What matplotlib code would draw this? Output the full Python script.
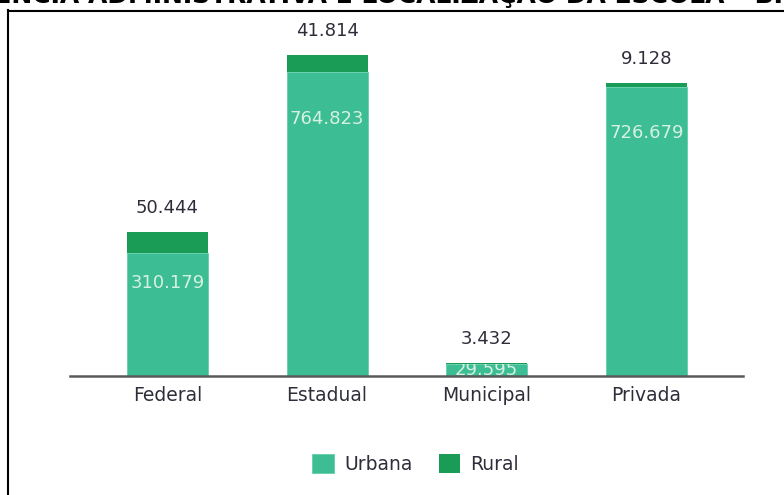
import matplotlib
matplotlib.use("Agg")
import matplotlib.pyplot as plt
from matplotlib.lines import Line2D
from matplotlib.patches import Patch
import numpy as np

categories = ["Federal", "Estadual", "Municipal", "Privada"]
urbana = [310179, 764823, 29595, 726679]
rural = [50444, 41814, 3432, 9128]
legend_labels = ["Urbana", "Rural"]
title_text = "DEPENDÊNCIA ADMINISTRATIVA E LOCALIZAÇÃO DA ESCOLA – BRASIL"

c_urb = "#3dbd94"
c_rur = "#1a9c57"
txt_dark = "#2e2e3a"
inner_offsets_pt = [22, 34, 4.5, 33.5]

W, H = 784, 495
fig = plt.figure(figsize=(W / 100, H / 100), dpi=100)
fig.patch.set_facecolor("white")

ax_left, ax_right = 70 / W, 743 / W
ax_bottom, ax_top = (H - 376) / H, (H - 30) / H
ax = fig.add_axes([ax_left, ax_bottom, ax_right - ax_left, ax_top - ax_bottom])

def fmt(v):
    return f"{v:,}".replace(",", ".")

x = np.arange(len(categories))
bw = 0.507
bars_u = ax.bar(x, urbana, bw, color=c_urb, edgecolor="#5fcfa8", linewidth=0.6, zorder=1)
bars_r = ax.bar(x, rural, bw, bottom=urbana, color=c_rur, linewidth=0, zorder=1)

ax.set_xlim(-0.61, 3.605)
ax.set_ylim(0, 346 / 3.98e-4)

num_fs = 13
for i, (u, r) in enumerate(zip(urbana, rural)):
    t = ax.annotate(fmt(u), xy=(x[i], u), xytext=(0, -inner_offsets_pt[i]),
                    textcoords="offset points", ha="center", va="center",
                    fontsize=num_fs, color="#d6f1e2", family="DejaVu Sans", zorder=3)
    t.set_clip_path(bars_u[i])
    ax.annotate(fmt(r), xy=(x[i], u + r), xytext=(0, 17.5),
                textcoords="offset points", ha="center", va="center",
                fontsize=num_fs, color=txt_dark, family="DejaVu Sans")

for s in ["top", "left", "right"]:
    ax.spines[s].set_visible(False)
ax.spines["bottom"].set_color("#5a5a5a")
ax.spines["bottom"].set_linewidth(1.8)
ax.set_yticks([])
ax.set_xticks(x)
ax.set_xticklabels(categories, fontsize=13.5, color=txt_dark)
ax.tick_params(axis="x", length=0, pad=7)

handles = [Patch(facecolor=c_urb, edgecolor="#5fcfa8", linewidth=0.6),
           Patch(facecolor=c_rur, edgecolor="none")]
fig.legend(handles, legend_labels, loc="center", bbox_to_anchor=(0.53, (H - 464) / H),
           ncol=2, frameon=False, fontsize=13.5, handlelength=1.15, handleheight=1.15,
           handletextpad=0.55, columnspacing=1.4, labelcolor=txt_dark)

# frame lines
fig.add_artist(Line2D([8 / W, 8 / W], [0, (H - 9.5) / H], color="black", lw=1.5,
                      transform=fig.transFigure, solid_capstyle="projecting"))
fig.add_artist(Line2D([8 / W, 1], [(H - 10.5) / H, (H - 10.5) / H], color="black", lw=1.5,
                      transform=fig.transFigure))

# cut-off title at top
renderer = fig.canvas.get_renderer()
def width_of(s, size):
    t = fig.text(0, 0, s, fontsize=size, fontweight="bold", family="DejaVu Sans")
    w = t.get_window_extent(renderer=renderer).width
    t.remove()
    return w
i_c = title_text.index("Ç")
i_b = title_text.index("BRASIL")
w1 = width_of(title_text[:i_c], 10)
w2 = width_of(title_text[:i_b], 10)
scale = (757 - 500) / (w2 - w1)
size = 10 * scale
x0 = 757 - w2 * scale
fig.text(x0 / W, 1 - 2.5 / H, title_text, fontsize=size, fontweight="bold",
         family="DejaVu Sans", va="baseline", ha="left", color="black")

fig.savefig("out.png", dpi=100, facecolor="white")
